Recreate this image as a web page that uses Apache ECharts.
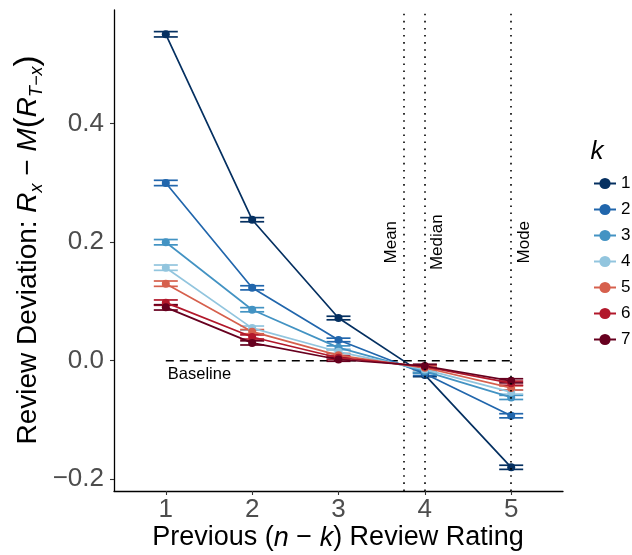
<!DOCTYPE html>
<html><head><meta charset="utf-8">
<script src="https://cdn.jsdelivr.net/npm/echarts@6/dist/echarts.min.js"></script>
<style>html,body{margin:0;padding:0;background:#fff}#c{width:632px;height:555px}</style>
</head><body><div id="c"></div>
<script>
const categories = [1, 2, 3, 4, 5];
const yTicks = [-0.2, 0.0, 0.2, 0.4];
const kNames = ['1', '2', '3', '4', '5', '6', '7'];
const k1 = [0.551, 0.238, 0.072, -0.024, -0.180];
const k2 = [0.300, 0.123, 0.035, -0.022, -0.093];
const k3 = [0.200, 0.086, 0.022, -0.018, -0.062];
const k4 = [0.157, 0.055, 0.015, -0.015, -0.053];
const k5 = [0.130, 0.049, 0.009, -0.012, -0.046];
const k6 = [0.098, 0.040, 0.005, -0.010, -0.038];
const k7 = [0.090, 0.030, 0.002, -0.009, -0.034];
const e1 = [0.0045, 0.0035, 0.0030, 0.0030, 0.0035];
const e2 = [0.0045, 0.0035, 0.0030, 0.0030, 0.0035];
const e3 = [0.0045, 0.0035, 0.0030, 0.0030, 0.0035];
const e4 = [0.0045, 0.0035, 0.0030, 0.0030, 0.0035];
const e5 = [0.0045, 0.0035, 0.0030, 0.0030, 0.0035];
const e6 = [0.0045, 0.0035, 0.0030, 0.0030, 0.0035];
const e7 = [0.0045, 0.0035, 0.0030, 0.0030, 0.0035];
const seriesValues = [k1, k2, k3, k4, k5, k6, k7];
const seriesErrors = [e1, e2, e3, e4, e5, e6, e7];
const colors = ['#053061', '#2166ac', '#4393c3', '#92c5de', '#d6604d', '#b2182b', '#67001f'];
const refNames = ['Mean', 'Median', 'Mode'];
const refX = [3.75, 4, 5];
const refLabelX = [3.61, 4.15, 5.15];
const refLabelY = [0.2, 0.2, 0.2];
const baselineX = [1, 5];
const baselineY = [0, 0];
const baselineLabel = ['Baseline'];
const baselineLabelPos = [1.39, -0.024];

const FONT = '"Liberation Sans", Arial, sans-serif';
const chart = echarts.init(document.getElementById('c'), null, {renderer: 'canvas'});

const series = [];
seriesValues.forEach((vals, i) => {
  const errs = seriesErrors[i];
  series.push({
    type: 'custom',
    name: kNames[i] + '_err',
    z: 3,
    silent: true,
    data: categories.map((x, j) => [x, vals[j] - errs[j], vals[j] + errs[j]]),
    renderItem: function (params, api) {
      const lo = api.coord([api.value(0), api.value(1)]);
      const hi = api.coord([api.value(0), api.value(2)]);
      const w = 12;
      const st = {stroke: colors[i], lineWidth: 1.7};
      return {type: 'group', children: [
        {type: 'line', shape: {x1: lo[0], y1: lo[1], x2: hi[0], y2: hi[1]}, style: st},
        {type: 'line', shape: {x1: lo[0] - w, y1: lo[1], x2: lo[0] + w, y2: lo[1]}, style: st},
        {type: 'line', shape: {x1: hi[0] - w, y1: hi[1], x2: hi[0] + w, y2: hi[1]}, style: st}
      ]};
    }
  });
});
seriesValues.forEach((vals, i) => {
  series.push({
    type: 'line',
    name: kNames[i],
    z: 4,
    data: categories.map((x, j) => [x, vals[j]]),
    symbol: 'circle',
    symbolSize: 8,
    showSymbol: true,
    lineStyle: {color: colors[i], width: 1.7},
    itemStyle: {color: colors[i]},
    emphasis: {disabled: true},
    animation: false
  });
});
series.push({
  type: 'line', name: 'baseline', z: 2, silent: true,
  data: baselineX.map((x, j) => [x, baselineY[j]]),
  symbol: 'none',
  lineStyle: {color: '#000', width: 1.5, type: [8, 6]},
  animation: false
});
series.push({
  type: 'line', name: 'refs', z: 1, silent: true, data: [],
  markLine: {
    silent: true, symbol: 'none', animation: false,
    lineStyle: {color: '#000', width: 1.6, type: [1.6, 5.5]},
    label: {show: false},
    data: refX.map(x => ({xAxis: x}))
  }
});
series.push({
  type: 'custom', name: 'annot', z: 5, silent: true,
  data: refNames.map((n, j) => [refLabelX[j], refLabelY[j], j]),
  renderItem: function (params, api) {
    const p = api.coord([api.value(0), api.value(1)]);
    return {type: 'text', x: p[0], y: p[1], rotation: Math.PI / 2,
      style: {text: refNames[api.value(2)], fontSize: 17, fontFamily: FONT, fill: '#000', align: 'center', verticalAlign: 'middle'}};
  }
});
series.push({
  type: 'custom', name: 'baseText', z: 5, silent: true,
  data: [[baselineLabelPos[0], baselineLabelPos[1]]],
  renderItem: function (params, api) {
    const p = api.coord([api.value(0), api.value(1)]);
    return {type: 'text', x: p[0], y: p[1],
      style: {text: baselineLabel[0], fontSize: 16.5, fontFamily: FONT, fill: '#000', align: 'center', verticalAlign: 'middle'}};
  }
});

const option = {
  animation: false,
  backgroundColor: '#fff',
  grid: {left: 114, right: 69, top: 10, bottom: 64, containLabel: false},
  xAxis: {
    type: 'value', min: 0.4, max: 5.6,
    splitLine: {show: false},
    axisLine: {show: true, onZero: false, lineStyle: {color: '#000', width: 1.3}},
    axisTick: {show: true, customValues: categories, length: 4, lineStyle: {color: '#333', width: 1.1}},
    axisLabel: {customValues: categories, fontSize: 26, color: '#4d4d4d', fontFamily: FONT, margin: 6,
      formatter: v => String(v)}
  },
  yAxis: {
    type: 'value', min: -0.22, max: 0.592,
    splitLine: {show: false},
    axisLine: {show: true, onZero: false, lineStyle: {color: '#000', width: 1.3}},
    axisTick: {show: true, customValues: yTicks, length: 4, lineStyle: {color: '#333', width: 1.1}},
    axisLabel: {customValues: yTicks, fontSize: 26, color: '#4d4d4d', fontFamily: FONT, margin: 10,
      formatter: v => v.toFixed(1).replace('-', '\u2212')}
  },
  legend: {
    data: kNames,
    orient: 'vertical', left: 588, top: 170,
    itemWidth: 22, itemHeight: 14, itemGap: 9,
    textStyle: {fontSize: 17, fontFamily: FONT, color: '#000', lineHeight: 14},
    selectedMode: false
  },
  graphic: [
    {type: 'text', x: 597, y: 152, style: {text: 'k', fontSize: 26, fontStyle: 'italic', fontFamily: FONT, fill: '#000', align: 'center', verticalAlign: 'middle'}},
    {type: 'text', x: 338, y: 538, style: {
      text: '{n|Previous (}{i|n}{n| \u2212 }{i|k}{n|) Review Rating}',
      align: 'center', verticalAlign: 'middle',
      rich: {
        n: {fontSize: 27, fontFamily: FONT, fill: '#000'},
        i: {fontSize: 27, fontFamily: FONT, fontStyle: 'italic', fill: '#000'}
      }}},
    {type: 'text', x: 28, y: 250, rotation: Math.PI / 2, style: {
      text: '{n|Review Deviation: }{i|R}{s|x}{n| \u2212 }{i|M}{p|(}{i|R}{s|T\u2212x}{p|)}',
      align: 'center', verticalAlign: 'middle',
      rich: {
        n: {fontSize: 28, fontFamily: FONT, fill: '#000', lineHeight: 35, verticalAlign: 'middle'},
        i: {fontSize: 28, fontFamily: FONT, fontStyle: 'italic', fill: '#000', lineHeight: 35, verticalAlign: 'middle'},
        p: {fontSize: 33, fontFamily: FONT, fill: '#000', lineHeight: 35, verticalAlign: 'middle'},
        s: {fontSize: 18, fontFamily: FONT, fontStyle: 'italic', fill: '#000', lineHeight: 18, verticalAlign: 'bottom', padding: [12, 0, 0, 0]}
      }}}
  ],
  series: series
};
chart.setOption(option);
</script>
</body></html>
